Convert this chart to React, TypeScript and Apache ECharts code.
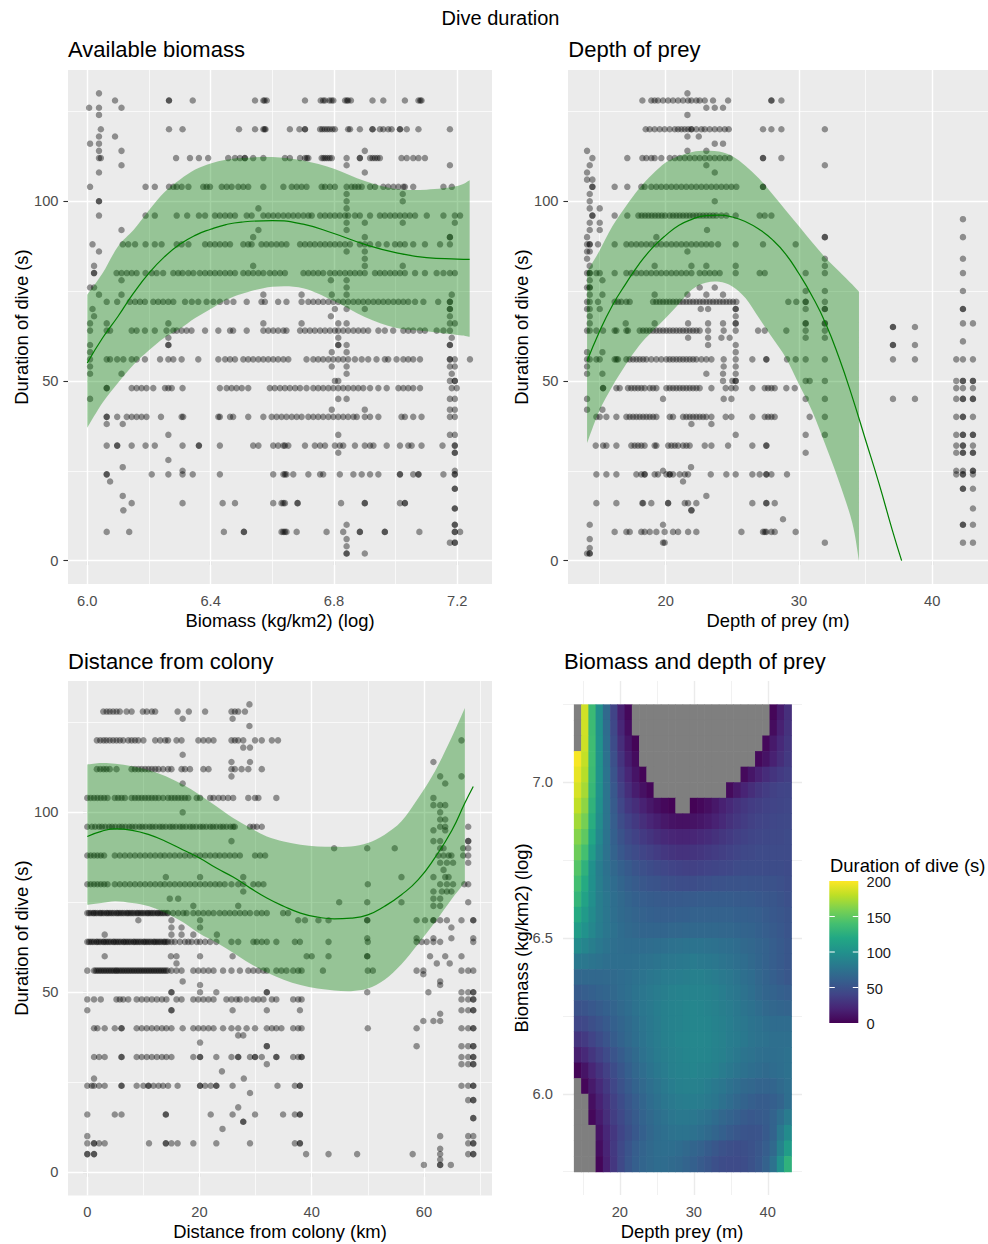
import React, { useEffect, useRef } from 'react';
import * as echarts from 'echarts';

// ---------- shared scales ----------
const FONT = '"Liberation Sans", Arial, Helvetica, sans-serif';
const DURATION_TICKS = [0, 50, 100];
const DURATION_MINOR = [25, 75, 125];

// ---------- Available biomass: dive duration (s) rows -> biomass (log kg/km2) ----------
const BIOMASS_TICKS = [6.0, 6.4, 6.8, 7.2];
const BIOMASS_MINOR = [6.2, 6.6, 7.0];
const BIOMASS_ROWS: [number, number[]][] = [
  [128, [6.265,6.265,6.342,6.544,6.571,6.575,6.582,6.706,6.757,6.765,6.771,6.785,6.792,6.798,6.836,6.842,6.846,6.855,6.925,6.960,7.030,7.074,7.080,7.084]],
  [120, [6.044,6.265,6.309,6.492,6.544,6.571,6.575,6.578,6.657,6.688,6.706,6.706,6.755,6.762,6.770,6.778,6.786,6.795,6.803,6.846,6.852,6.884,6.925,6.925,6.949,6.960,6.976,6.987,7.014,7.014,7.036,7.074,7.176]],
  [112, [6.044,6.288,6.333,6.362,6.392,6.457,6.479,6.495,6.511,6.511,6.538,6.571,6.641,6.657,6.690,6.706,6.712,6.717,6.760,6.766,6.772,6.779,6.786,6.793,6.841,6.884,6.884,6.917,6.925,6.933,6.941,6.949,7.019,7.036,7.057,7.074,7.095]],
  [104, [6.009,6.189,6.219,6.265,6.279,6.290,6.306,6.328,6.376,6.387,6.398,6.436,6.452,6.468,6.490,6.506,6.522,6.571,6.636,6.663,6.679,6.695,6.711,6.760,6.771,6.787,6.803,6.841,6.857,6.868,6.879,6.890,6.917,6.933,6.960,6.976,6.993,7.009,7.025,7.030,7.057,7.155,7.182]],
  [96, [6.038,6.189,6.219,6.290,6.324,6.362,6.382,6.414,6.430,6.447,6.463,6.479,6.517,6.533,6.571,6.587,6.603,6.619,6.636,6.652,6.668,6.684,6.701,6.717,6.728,6.755,6.771,6.787,6.803,6.819,6.836,6.846,6.868,6.884,6.917,6.949,6.965,6.982,6.998,7.014,7.030,7.046,7.063,7.101,7.155,7.192,7.209]],
  [88, [6.017,6.115,6.133,6.155,6.189,6.219,6.241,6.290,6.306,6.328,6.382,6.398,6.414,6.430,6.447,6.463,6.506,6.522,6.533,6.565,6.581,6.597,6.614,6.630,6.646,6.690,6.706,6.722,6.738,6.755,6.771,6.787,6.803,6.819,6.836,6.852,6.884,6.900,6.917,6.944,6.971,6.998,7.014,7.030,7.057,7.095,7.144,7.176]],
  [80, [6.022,6.022,6.095,6.111,6.128,6.144,6.160,6.189,6.209,6.225,6.246,6.279,6.295,6.309,6.328,6.344,6.365,6.382,6.398,6.414,6.430,6.447,6.463,6.479,6.506,6.522,6.538,6.555,6.571,6.592,6.608,6.625,6.641,6.701,6.717,6.733,6.749,6.765,6.787,6.803,6.819,6.836,6.852,6.868,6.884,6.900,6.933,6.949,6.965,6.982,6.998,7.014,7.030,7.063,7.095,7.133,7.155,7.176,7.192]],
  [72, [6.063,6.097,6.138,6.155,6.171,6.187,6.214,6.230,6.246,6.263,6.279,6.317,6.339,6.360,6.387,6.409,6.430,6.452,6.474,6.517,6.565,6.576,6.619,6.646,6.695,6.717,6.733,6.749,6.765,6.782,6.798,6.814,6.830,6.846,6.863,6.879,6.895,6.911,6.928,6.944,6.960,6.976,6.993,7.009,7.025,7.041,7.063,7.090,7.138,7.176,7.176]],
  [64, [6.009,6.063,6.074,6.144,6.160,6.187,6.219,6.257,6.279,6.290,6.306,6.322,6.338,6.382,6.425,6.463,6.473,6.517,6.571,6.587,6.603,6.619,6.636,6.646,6.690,6.706,6.722,6.738,6.755,6.771,6.787,6.803,6.814,6.830,6.846,6.863,6.879,6.895,6.911,6.944,6.965,6.992,7.025,7.041,7.057,7.079,7.095,7.133,7.155,7.176]],
  [56, [6.009,6.063,6.074,6.097,6.117,6.144,6.160,6.187,6.236,6.263,6.279,6.306,6.360,6.425,6.447,6.463,6.479,6.506,6.522,6.538,6.555,6.571,6.587,6.603,6.619,6.636,6.652,6.711,6.733,6.749,6.765,6.782,6.798,6.814,6.830,6.846,6.868,6.890,6.911,6.938,6.965,6.976,7.003,7.025,7.041,7.057,7.079,7.176,7.176,7.192,7.241]],
  [48, [6.063,6.063,6.144,6.160,6.176,6.192,6.214,6.252,6.263,6.274,6.309,6.430,6.452,6.468,6.484,6.501,6.522,6.592,6.608,6.625,6.641,6.657,6.674,6.690,6.711,6.733,6.749,6.765,6.782,6.798,6.814,6.830,6.846,6.863,6.879,6.895,6.917,6.944,6.971,7.009,7.025,7.041,7.057,7.079,7.182,7.198]],
  [40, [6.063,6.063,6.097,6.128,6.144,6.160,6.176,6.192,6.239,6.306,6.311,6.425,6.430,6.463,6.473,6.522,6.571,6.598,6.614,6.630,6.646,6.663,6.679,6.695,6.717,6.733,6.749,6.765,6.782,6.798,6.814,6.830,6.846,6.863,6.874,6.900,6.917,6.944,7.019,7.030,7.057,7.084,7.176,7.192]],
  [32, [6.063,6.097,6.097,6.144,6.189,6.219,6.309,6.362,6.362,6.430,6.538,6.555,6.603,6.619,6.636,6.641,6.652,6.706,6.738,6.755,6.771,6.803,6.819,6.830,6.868,6.900,6.917,6.928,6.971,7.014,7.041,7.052,7.084,7.152,7.192,7.192]],
  [24, [6.063,6.063,6.209,6.263,6.309,6.342,6.430,6.603,6.636,6.641,6.646,6.668,6.717,6.755,6.765,6.819,6.863,6.890,6.917,6.944,7.014,7.014,7.057,7.074,7.074,7.155,7.192,7.192]],
  [16, [6.144,6.309,6.439,6.479,6.603,6.630,6.636,6.641,6.682,6.682,6.823,6.900,6.900,7.014,7.030,7.030]],
  [8, [6.063,6.136,6.443,6.508,6.508,6.630,6.636,6.641,6.646,6.679,6.776,6.830,6.884,6.884,6.965,6.965,7.077,7.192,7.192,7.209]],
];
const BIOMASS_EXTRA: [number, number][] = [
  [6.038,130],[6.090,128],[6.006,126],[6.038,126],[6.111,126],[6.038,124],[6.038,118],[6.090,118],[6.009,116],[6.038,116],
  [6.038,114],[6.111,114],[6.900,114],[6.038,112],[6.111,110],[6.841,110],[7.176,110],[6.038,108],[6.900,108],[6.841,102],
  [7.023,102],[6.038,100],[6.038,100],[6.841,100],[7.023,100],[6.555,98],[6.841,98],[6.841,94],[6.900,94],[7.023,94],
  [7.192,94],[6.111,92],[6.555,92],[6.841,92],[6.538,90],[6.900,90],[7.176,90],[7.176,90],[6.038,86],[6.841,86],
  [6.900,86],[6.900,84],[6.022,82],[6.538,82],[6.900,82],[7.023,82],[6.111,78],[6.790,78],[6.841,78],[6.009,76],
  [6.022,76],[6.841,76],[6.038,74],[6.111,74],[6.571,74],[6.695,74],[6.793,74],[6.841,74],[7.182,74],[6.017,70],
  [6.803,70],[6.841,70],[6.900,70],[7.176,70],[7.176,70],[6.022,68],[6.790,68],[7.176,68],[6.009,66],[6.063,66],
  [6.263,66],[6.571,66],[6.695,66],[6.814,66],[6.841,66],[7.176,66],[7.192,66],[6.263,62],[6.814,62],[7.182,62],
  [6.009,60],[6.263,60],[6.263,60],[6.814,60],[6.814,60],[6.841,60],[7.176,60],[7.176,60],[6.009,58],[6.793,58],
  [6.841,58],[6.009,54],[6.793,54],[6.841,54],[7.176,54],[7.192,54],[6.009,52],[6.111,52],[6.841,52],[7.182,52],
  [6.803,50],[6.814,50],[7.176,50],[7.192,50],[7.192,50],[6.009,45],[6.814,45],[6.841,45],[7.176,45],[7.192,45],
  [6.793,42],[6.900,42],[7.176,42],[7.192,42],[6.063,38],[6.115,38],[6.263,35],[6.814,35],[7.176,35],[7.192,35],
  [6.814,30],[7.192,30],[7.192,30],[6.263,28],[6.115,26],[6.309,25],[7.192,25],[6.074,22],[7.192,20],[7.192,20],
  [6.115,18],[6.117,14],[7.192,14.5],[7.192,14.5],[6.841,10],[7.192,10],[7.192,10],[6.841,6],[7.176,5],[7.192,5],
  [7.192,5],[6.841,4],[6.841,2],[6.841,2],[6.900,2],
];
const BIOMASS_FIT_X = [6.00,6.05,6.10,6.15,6.20,6.25,6.30,6.35,6.40,6.45,6.50,6.60,6.70,6.80,6.90,7.00,7.10,7.20,7.24];
const BIOMASS_FIT = [55,62,68,74.4,80,84.5,88,90.5,92.2,93.5,94.2,94.6,93.6,91,88,85.7,84.3,83.9,83.8];
const BIOMASS_LOW = [37,44,49.5,54.5,58.5,62,64.5,67.5,70,72.5,74.2,76.2,75.8,72.2,67.8,64.8,63.8,62.8,62.3];
const BIOMASS_HIGH = [74,80,87.5,92,97.5,102.5,106,108.8,110.5,111.5,112,112.3,111.3,109,105.6,103.4,103.2,104.2,105.8];

// ---------- Depth of prey (m) ----------
const DEPTH_TICKS = [20, 30, 40];
const DEPTH_MINOR = [15, 25, 35];
const DEPTH_ROWS: [number, number[]][] = [
  [128, [18.25,18.92,19.17,19.42,19.80,20.18,20.55,20.93,21.30,21.68,21.93,22.30,22.55,22.93,23.55,24.68,27.93,27.93,28.68]],
  [120, [18.50,18.80,19.17,19.55,19.92,20.30,20.68,20.93,21.18,21.43,21.68,21.93,21.93,22.30,22.68,22.93,23.30,23.68,24.05,24.43,24.73,27.30,27.93,28.68,31.94]],
  [112, [14.50,17.12,18.25,18.55,18.92,19.17,19.67,20.30,20.68,21.05,21.43,21.80,22.18,22.55,22.93,23.30,23.68,24.05,24.43,24.80,27.30,27.30,28.68]],
  [104, [14.50,14.50,16.17,17.12,18.17,18.42,18.92,19.30,19.67,20.05,20.43,20.80,21.18,21.55,21.93,22.30,22.68,23.05,23.43,23.80,24.18,24.55,24.93,25.30,27.30,27.30]],
  [96, [14.50,14.50,16.17,17.12,17.95,18.20,18.45,18.70,18.95,19.20,19.45,19.70,19.95,20.30,20.55,20.80,21.05,21.30,21.55,21.80,22.05,22.30,22.55,22.80,23.05,23.30,23.55,23.80,24.18,24.55,25.25,27.05,27.43,27.93]],
  [88, [14.10,14.30,14.30,14.92,16.17,17.05,17.42,17.80,18.17,18.55,18.92,19.30,19.67,20.05,20.43,20.80,21.18,21.55,21.93,22.30,22.68,23.05,23.43,23.93,25.25,27.30,29.75]],
  [80, [14.10,14.30,14.30,14.80,15.05,16.17,17.05,17.42,17.80,18.17,18.55,18.92,19.30,19.67,20.05,20.43,20.80,21.18,21.55,21.93,22.55,22.93,23.30,23.68,24.05,25.25,27.05,27.43,30.50,31.94]],
  [72, [14.10,14.30,14.92,16.17,16.42,16.67,17.05,17.30,19.05,19.30,19.55,19.80,20.05,20.30,20.55,20.80,21.05,21.30,21.55,21.80,22.05,22.30,22.55,22.80,23.05,23.30,23.55,23.80,24.05,24.30,24.55,24.80,25.05,25.30,29.20,29.80,30.50,30.50,31.94]],
  [64, [14.10,14.30,14.80,15.30,16.17,16.30,17.05,17.17,18.05,18.30,18.55,18.80,19.05,19.30,19.55,19.80,20.05,20.30,20.55,20.80,21.05,21.30,21.55,21.80,22.05,22.30,22.55,23.18,24.35,25.25,26.93,27.43,29.05,30.50,31.94]],
  [56, [14.10,14.30,14.80,15.05,16.17,16.30,16.42,17.05,17.30,17.55,17.80,18.05,18.30,18.55,18.92,19.30,19.67,20.05,20.30,20.55,20.80,21.05,21.30,21.55,21.80,22.05,22.30,22.68,23.05,23.43,24.35,25.25,26.50,27.55,27.55,29.10,29.75,30.50,31.94,37.05,38.70,41.80,42.30,43.05]],
  [48, [15.30,15.30,16.30,16.55,17.17,17.42,17.67,17.92,18.17,18.42,18.80,19.05,19.30,20.05,20.30,20.55,20.80,21.05,21.30,21.55,21.80,22.05,22.30,22.55,23.43,24.50,24.93,25.25,26.50,27.43,27.68,27.93,28.18,29.05,29.68,41.80,42.30,43.05]],
  [40, [14.80,15.05,15.55,16.30,17.05,17.30,17.55,17.80,18.05,18.30,18.55,18.80,19.05,19.30,20.30,20.55,21.30,21.55,21.80,22.05,22.30,22.55,22.80,23.05,23.43,24.50,24.93,26.50,27.43,27.68,27.93,28.18,30.80,31.94,41.80,42.30,42.30,43.05]],
  [32, [14.75,15.30,15.55,16.30,17.42,17.67,17.92,18.17,18.42,19.17,19.30,20.18,20.43,20.68,20.93,21.30,21.55,21.80,22.93,23.43,24.68,26.50,27.55,27.55,41.80,42.30,42.30,43.05]],
  [24, [14.80,15.55,16.30,17.80,18.17,18.42,18.42,19.17,19.42,20.05,20.30,20.30,20.55,21.05,21.43,21.68,23.38,24.55,25.25,26.50,27.05,27.55,27.55,27.93,29.10,41.80,42.30,42.30,43.05]],
  [16, [14.80,16.30,18.25,18.30,18.92,20.18,20.18,21.43,21.68,22.30,26.50,27.55,27.55,28.18]],
  [8, [16.17,17.05,17.30,18.17,18.42,18.80,19.30,19.92,20.55,20.93,21.68,22.30,25.68,27.30,27.43,27.55,27.93,28.18,29.75]],
];
const DEPTH_EXTRA: [number, number][] = [
  [21.63,130],[23.05,126],[23.68,126],[24.30,126],[21.63,124],[21.63,118],[22.48,118],[23.68,116],[24.30,116],[14.10,114],
  [21.63,114],[23.05,114],[14.30,110],[23.05,110],[31.94,110],[14.10,108],[23.68,108],[14.10,106],[14.50,106],[14.30,102],
  [14.30,100],[23.68,100],[14.30,98],[15.05,98],[14.30,94],[15.05,94],[14.30,92],[15.05,92],[23.10,92],[14.10,90],
  [19.30,90],[31.94,90],[31.94,90],[42.30,95],[42.30,90],[14.10,86],[14.30,86],[21.63,86],[14.10,84],[31.94,84],
  [42.30,84],[14.30,82],[19.17,82],[21.93,82],[23.05,82],[25.25,82],[31.94,82],[42.30,80],[14.30,78],[15.25,78],
  [14.10,76],[14.30,76],[14.30,76],[22.55,76],[23.68,76],[14.30,74],[15.25,74],[19.17,74],[21.63,74],[23.05,74],
  [24.30,74],[30.50,75],[31.94,75],[42.30,75],[14.10,70],[14.30,70],[15.05,70],[22.63,70],[23.18,70],[25.25,70],
  [25.25,70],[30.50,70],[31.94,70],[31.94,70],[42.30,70],[42.30,70],[14.30,68],[25.25,68],[14.30,66],[17.00,66],
  [19.17,66],[21.68,66],[23.18,66],[24.30,66],[25.25,66],[25.25,66],[30.50,66],[30.50,66],[31.94,66],[31.94,66],
  [42.30,66],[43.05,66],[37.05,65],[37.05,65],[38.70,65],[21.68,62],[23.18,62],[24.18,62],[24.80,62],[30.50,62],
  [31.94,62],[42.30,61],[37.05,60],[37.05,60],[38.70,60],[23.18,60],[25.25,60],[14.10,58],[15.25,58],[25.25,58],
  [14.10,54],[24.35,54],[25.25,54],[14.10,52],[15.25,52],[23.05,52],[24.30,52],[25.25,52],[24.30,50],[25.00,50],
  [25.25,50],[25.25,50],[30.50,50],[30.80,50],[31.94,50],[41.80,50],[42.30,50],[42.30,50],[43.05,50],[43.05,50],
  [14.10,45],[19.80,45],[24.35,45],[24.93,45],[30.50,45],[31.94,45],[37.05,45],[38.70,45],[41.80,45],[42.30,45],
  [42.30,45],[43.05,45],[43.05,45],[14.10,42],[15.25,42],[21.93,38],[23.43,38],[25.25,35],[30.50,35],[31.94,35],
  [41.80,35],[42.30,35],[42.30,35],[43.05,35],[43.05,35],[30.50,30],[41.80,30],[42.30,30],[42.30,30],[43.05,30],
  [43.05,30],[21.90,26],[19.80,25],[41.80,25],[42.30,25],[43.05,25],[43.05,25],[21.30,22],[42.30,20],[42.30,20],
  [43.05,20],[23.05,18],[43.05,14.5],[21.93,14],[21.93,14],[28.80,11.5],[14.30,10],[19.80,10],[42.30,10],[42.30,10],
  [43.05,10],[14.30,6],[19.80,5],[19.92,5],[31.94,5],[42.30,5],[43.05,5],[14.30,3.5],[14.10,2],[14.30,2],[14.30,2],
];
const DEPTH_FIT_X = [14.1,15,16,17,18,19,20,21,22,23,24,25,26,27,28,29,30,31,32,33,34,35,36,37,37.7];
const DEPTH_FIT = [55.5,63.5,71,77,82.5,87,90.5,93.3,95,96,96.1,95.6,94.3,92.2,89.3,85.3,79.8,73.5,66,56.5,45.5,33.5,21.5,8.5,0];
const DEPTH_BAND_X = [14.1,15,16,17,18,19,20,21,22,23,24,25,26,27,28,29,30,31,32,33,34,34.5];
const DEPTH_LOW = [32.7,41.5,48.5,54.5,59.8,63.8,67.5,71.5,75.5,77.3,77.6,76.3,73,67.5,62,56.5,49,41.5,32,22,10.5,0];
const DEPTH_HIGH = [80.4,86,93,98.5,103.5,107.5,110.8,112.6,113.7,114,113.8,112.5,109.8,106.3,102,97.5,93,88.5,84.2,80.5,76.8,74.8];

// ---------- Distance from colony (km) ----------
const DIST_TICKS = [0, 20, 40, 60];
const DIST_MINOR = [10, 30, 50, 70];
const DIST_ROWS: [number, number[]][] = [
  [128, [2.85,3.45,4.0,4.6,5.2,5.8,7.0,7.9,9.9,10.6,11.5,12.1,16.1,18.1,21.0,25.7,26.3,26.9,28.1]],
  [120, [1.7,2.3,2.9,3.4,4.0,4.6,5.2,5.8,6.4,7.3,7.9,8.5,9.1,10.0,12.1,13.0,13.9,14.4,15.9,16.8,19.8,20.7,21.6,22.5,25.7,26.3,26.9,27.8,29.9,31.1,32.9,34.0]],
  [112, [1.7,2.3,2.9,3.4,4.0,5.2,7.9,8.5,9.1,9.7,10.3,10.9,11.5,12.1,12.7,13.5,14.4,15.0,16.8,17.4,18.3,20.7,21.6,25.7,26.3,27.5,28.7,31.1]],
  [104, [0.0,0.6,1.2,1.8,2.4,3.0,3.6,4.9,5.5,6.1,6.7,7.9,8.5,9.1,9.7,10.3,10.9,11.5,12.1,12.7,13.5,14.4,15.0,15.6,16.2,16.8,17.4,18.0,19.5,20.1,21.9,22.5,23.4,24.2,25.1,26.0,28.7,29.9,30.5,33.7]],
  [96, [0.0,0.8,1.4,2.1,2.6,3.2,3.9,4.4,5.0,5.7,6.2,6.8,7.5,8.0,8.6,9.3,9.8,10.4,11.1,11.6,12.2,12.9,13.4,14.0,14.7,15.2,15.8,16.5,17.0,17.6,18.3,18.8,19.4,20.1,20.6,21.2,21.9,22.4,23.0,23.7,24.2,24.8,25.5,26.0,26.3,29.0,29.6,30.2,31.1]],
  [88, [0.0,0.6,1.2,1.8,2.4,3.0,4.9,5.8,6.7,7.6,8.5,9.4,10.3,11.2,12.1,13.0,13.8,14.7,15.6,16.5,17.4,18.3,19.2,20.1,21.0,21.9,22.8,23.6,24.5,25.4,26.3,27.2,29.9,30.8,31.7]],
  [80, [0.0,0.6,1.2,1.8,2.4,3.0,3.6,4.9,5.8,6.7,7.6,8.5,9.4,10.3,11.2,12.1,13.0,13.8,14.7,15.6,16.5,17.4,18.3,19.2,20.1,21.0,21.9,22.8,23.6,24.5,25.7,26.9,27.8,29.6,30.5,31.4,50.0,62.9,64.1,65.2,67.2,67.9]],
  [72, [0.0,0.6,1.2,1.8,2.4,3.0,3.6,4.2,4.8,5.4,6.0,6.6,7.2,7.8,8.4,9.0,9.6,10.2,10.8,11.4,12.0,12.6,13.2,13.8,14.4,15.3,16.2,17.1,17.7,18.9,19.8,20.7,21.6,22.5,23.6,24.5,25.4,26.3,27.2,28.1,29.0,30.2,31.1,32.0,34.9,35.8]],
  [72, [0.3,1.0,1.5,2.2,2.7,3.4,3.9,4.5,5.2,5.7,6.3,7.0,7.5,8.1,8.8,9.3,9.9,10.6,11.1,11.7,12.4,12.9,13.5,14.2]],
  [64, [0.0,0.6,1.2,1.8,2.4,3.0,3.6,4.2,4.8,5.4,6.0,6.6,7.2,7.8,8.4,9.0,9.6,10.2,10.8,11.4,12.0,12.6,13.2,13.8,14.4,15.0,15.6,16.5,17.4,18.0,18.6,19.5,20.1,21.0,21.9,23.0,25.7,26.9,29.6,30.2,31.1,32.0,33.7,37.0,37.9,43.0,50.0,58.7,59.6,60.5,61.7,62.9,68.8]],
  [64, [0.3,0.9,1.6,2.1,2.8,3.3,3.9,4.6,5.1,5.7,6.4,6.9,7.5,8.2,8.7,9.3,10.0,10.5,11.1,11.8,12.3,12.9,13.6,14.1]],
  [56, [0.0,1.2,1.8,2.4,3.0,3.6,4.2,4.8,5.3,5.9,6.5,7.1,7.7,8.3,8.9,9.5,10.1,10.7,11.3,11.9,12.5,13.1,13.7,14.3,15.0,15.9,16.8,18.9,19.8,20.7,21.6,22.5,24.2,25.7,27.2,28.7,29.6,30.5,31.4,32.0,33.7,34.6,35.5,36.7,37.6,38.2,42.0,50.0,50.9,58.7,59.9,66.7,67.9,68.8]],
  [56, [1.5,2.1,2.7,3.3,3.9,4.5,5.1,5.6,6.2,6.8,7.4,8.0,8.6,9.2,9.8,10.4,11.0,11.6,12.2,12.8,13.4,14.0]],
  [48, [0.0,1.2,2.4,5.2,5.8,6.4,7.3,8.8,9.7,10.6,11.5,12.4,13.3,14.1,15.9,16.8,18.9,19.8,20.7,21.6,22.5,24.8,25.7,26.6,27.2,28.4,29.6,30.5,31.4,32.9,33.7,36.7,37.6,38.2,66.7,67.9,68.8,68.8]],
  [40, [1.2,1.8,3.1,4.9,6.1,6.1,8.8,9.7,10.6,11.5,12.4,13.3,14.1,15.0,17.0,18.9,19.8,20.7,21.6,22.5,24.2,25.7,26.9,28.4,29.9,32.0,32.9,33.7,34.6,36.7,37.6,38.2,50.0,58.7,66.7,67.9,68.8,68.8]],
  [32, [1.2,2.1,3.1,6.1,6.1,8.8,9.7,10.6,11.5,12.4,13.3,14.1,15.0,18.9,20.1,20.1,23.0,25.7,26.9,26.9,29.0,29.9,29.9,31.1,33.7,33.7,36.7,37.6,38.2,38.2,66.7,67.9,68.8,68.8]],
  [24, [0.0,0.8,1.2,2.1,3.1,6.1,6.1,8.8,10.0,10.9,10.9,11.8,12.7,13.5,14.4,16.1,20.1,20.1,21.0,22.0,23.0,23.0,25.9,33.9,37.0,37.9,37.9,66.7,67.9,68.8,68.8]],
  [16, [0.0,4.9,6.1,14.0,14.0,22.0,25.9,29.9,34.9,37.0,37.9,37.9]],
  [8, [0.0,1.2,1.2,2.1,3.1,11.0,14.0,14.0,15.0,16.1,18.9,23.0,29.0,37.0,37.9,37.9,67.9,68.8,68.8]],
];
const DIST_EXTRA: [number, number][] = [
  [28.9,130],[17.0,126],[25.9,126],[28.9,124],[27.8,118],[29.0,118],[17.0,116],[25.7,114],[29.0,114],[61.7,114],
  [66.7,120],[25.7,110],[62.9,110],[66.7,110],[17.0,108],[63.8,108],[61.7,104],[61.7,102],[62.9,102],[63.8,102],
  [17.0,100],[62.9,100],[62.9,98],[63.8,98],[62.9,96],[63.8,96],[67.9,96],[61.7,95],[63.8,95],[25.7,92],
  [61.7,92],[62.9,92],[67.9,92],[67.9,92],[44.0,90],[49.9,90],[54.8,90],[62.9,90],[63.5,90],[67.0,90],
  [67.9,90],[62.6,88],[63.5,88],[64.4,88],[64.9,88],[67.0,88],[67.9,88],[62.9,86],[64.1,86],[65.2,86],
  [67.9,86],[63.5,84],[14.0,82],[20.1,82],[27.8,82],[56.0,82],[61.7,82],[63.8,82],[64.4,82],[27.8,78],
  [61.7,78],[63.2,78],[64.1,78],[64.9,78],[14.7,76],[16.2,76],[61.7,76],[62.9,76],[44.9,75],[49.9,75],
  [56.0,75],[67.9,75],[18.9,74],[26.9,74],[61.7,74],[62.9,74],[9.1,70],[15.0,70],[20.1,70],[37.6,70],
  [38.8,70],[41.2,70],[43.0,70],[49.9,70],[49.9,70],[58.7,70],[60.2,70],[61.7,70],[61.7,70],[62.9,70],
  [64.1,70],[66.7,70],[68.8,70],[68.8,70],[15.0,68],[16.8,68],[20.1,68],[64.9,68],[3.1,66],[15.0,66],
  [16.8,66],[18.9,66],[23.1,66],[49.9,65],[58.7,65],[61.7,65],[64.9,65],[68.8,65],[3.1,60],[14.9,60],
  [15.9,60],[20.1,60],[25.9,60],[39.1,60],[40.0,60],[43.0,60],[49.9,60],[49.9,60],[61.1,60],[63.8,60],
  [66.7,60],[15.9,58],[62.3,58],[64.6,58],[59.9,55],[17.0,53],[62.9,53],[20.1,52],[62.9,52],[15.0,50],
  [15.0,50],[20.1,50],[23.0,50],[32.0,50],[32.0,50],[49.9,50],[60.8,50],[66.7,50],[67.9,50],[68.8,50],
  [68.8,50],[0.0,45],[15.0,45],[15.0,45],[25.9,45],[32.0,45],[37.9,45],[66.7,45],[67.9,45],[68.8,45],
  [68.8,45],[62.9,44],[59.9,42],[61.7,42],[62.9,42],[26.9,38],[27.8,38],[20.1,36],[32.0,35],[32.0,35],
  [58.7,35],[66.7,35],[67.9,35],[68.8,35],[68.8,35],[32.0,30],[66.7,30],[67.9,30],[68.8,30],[68.8,30],
  [24.0,28],[1.2,26],[27.9,26],[29.0,22],[67.9,20],[68.8,20],[68.8,20],[26.9,18],[68.8,15],[68.8,15],
  [27.8,14],[27.8,14],[24.1,12],[0.0,10],[62.9,10],[67.9,10],[68.8,10],[0.0,5],[0.0,5],[1.2,5],
  [1.2,5],[39.0,5],[43.0,5],[48.1,5],[58.0,5],[62.9,6.5],[62.9,5],[67.9,5],[68.8,5],[68.8,5],
  [62.9,3.5],[60.0,2],[62.9,2],[62.9,2],[64.8,2],
];
const DIST_FIT_X = [0,2.5,5,8,11,14,17,20,23,26,29,32,35,38,41,44,47,50,53,56,59,62,65,67.3,68.8];
const DIST_FIT = [93.3,94.7,95.4,95,93.8,91.9,89.6,87.3,84.5,82,79,76.2,73.9,72,70.9,70.4,70.6,71.5,73.9,77.1,81.3,87.5,95,102.6,107.2];
const DIST_BAND_X = [0,2.5,5,8,11,14,17,20,23,26,29,32,35,38,41,44,47,50,53,56,59,62,65,67.3];
const DIST_LOW = [74.3,74.8,75.3,74.8,73.9,72,69.5,66.3,63.8,61,58,55.5,53.5,52,51,50.5,50.3,51,53.5,57.8,63.5,69.5,76,80.5];
const DIST_HIGH = [113.3,113.7,113.5,112.8,111.7,110,107.7,104.9,101.7,98.4,95.7,93.3,91.9,91,90.5,90.4,90.5,91.5,93.8,97.5,104,111.5,121,129];

// ---------- Biomass x depth surface (predicted duration, s) ----------
const SURFACE_DEPTH_TICKS = [20, 30, 40];
const SURFACE_DEPTH_MINOR = [15, 25, 35];
const SURFACE_BIOMASS_TICKS = [6.0, 6.5, 7.0];
const SURFACE_BIOMASS_MINOR = [5.75, 6.25, 6.75, 7.25];
const SURFACE_DEPTH = [14.27,15.25,16.23,17.21,18.19,19.17,20.15,21.13,22.11,23.09,24.07,25.05,26.03,27.01,27.99,28.97,29.95,30.93,31.91,32.89,33.87,34.85,35.83,36.81,37.79,38.77,39.75,40.73,41.71,42.69];
const SURFACE_BIOMASS = [7.225,7.175,7.125,7.075,7.025,6.975,6.925,6.875,6.825,6.775,6.725,6.675,6.625,6.575,6.525,6.475,6.425,6.375,6.325,6.275,6.225,6.175,6.125,6.075,6.025,5.975,5.925,5.875,5.825,5.775];
const SURFACE_DURATION: number[][] = [
  [212,186,135,98,68,40,18,4,-5,-12,-18,-24,-29,-33,-36,-38,-39,-39,-38,-36,-33,-29,-24,-18,-12,-7,-2,3,15,27],
  [207,186,136,100,70,43,22,7,-3,-9,-15,-21,-26,-30,-33,-35,-36,-36,-35,-33,-30,-26,-21,-15,-10,-5,-1,6,18,29],
  [202,185,137,101,72,46,26,12,2,-5,-11,-17,-22,-26,-29,-31,-32,-32,-31,-29,-26,-22,-17,-12,-7,-2,4,14,23,31],
  [198,182,137,102,74,49,30,16,6,-2,-7,-12,-16,-19,-21,-22,-23,-23,-22,-20,-17,-13,-9,-5,-1,4,10,18,26,33],
  [193,178,136,102,76,52,34,21,11,2,-3,-7,-11,-14,-16,-17,-17,-16,-14,-11,-8,-5,-1,5,12,19,25,30,34,37],
  [188,173,133,101,77,55,38,26,16,9,3,-2,-5,-8,-10,-11,-11,-10,-8,-5,-2,5,13,20,26,31,35,38,40,41],
  [181,166,129,99,77,57,42,32,26,19,13,8,4,1,-2,-2,1,4,8,13,18,23,28,32,35,37,39,40,41,42],
  [172,158,124,96,77,59,47,39,33,27,21,17,13,10,9,9,10,12,15,19,23,28,32,35,38,40,41,42,43,44],
  [163,150,118,93,76,61,51,44,39,34,30,26,23,21,20,20,21,23,25,28,31,34,37,39,41,42,43,44,44,45],
  [155,140,110,89,75,63,55,49,45,41,38,35,32,30,29,29,30,31,33,35,37,39,41,43,44,45,45,45,45,45],
  [146,128,100,84,74,67,61,56,52,49,46,44,42,40,39,38,38,39,40,41,42,43,45,46,46,46,46,46,46,45],
  [139,122,99,85,76,70,65,60,57,54,52,51,49,48,47,47,47,48,49,50,50,51,51,52,51,51,50,50,49,47],
  [131,115,98,85,78,72,68,64,61,59,58,57,56,56,56,57,57,58,58,58,58,58,57,57,56,55,54,53,51,49],
  [122,108,95,85,78,73,69,66,64,62,61,60,60,60,61,61,62,62,62,62,62,62,61,61,60,59,57,55,53,51],
  [110,101,92,84,78,74,70,68,66,65,65,65,65,66,66,67,67,67,67,67,66,66,65,64,63,61,59,57,55,52],
  [95,90,85,80,76,73,71,70,70,70,71,72,73,74,75,76,76,76,75,74,73,72,70,68,66,64,62,59,56,53],
  [80,79,77,75,73,72,72,72,73,74,75,77,78,79,80,81,82,81,80,79,77,75,73,71,68,65,62,59,56,53],
  [66,67,67,67,68,69,70,72,74,76,78,80,82,83,84,85,86,86,85,83,81,79,76,73,70,66,63,60,57,54],
  [57,59,61,63,65,67,70,73,76,78,81,83,85,87,88,89,89,89,88,86,84,81,78,75,72,68,65,63,61,59],
  [50,52,55,58,61,64,68,71,75,78,81,84,86,88,89,90,91,90,89,87,85,83,80,77,74,71,68,66,65,64],
  [42,44,48,52,56,61,65,69,73,77,80,83,86,88,89,90,91,91,90,88,86,84,81,79,76,74,72,70,70,70],
  [30,34,40,46,52,58,63,68,72,76,80,83,86,88,90,91,92,92,91,89,87,84,82,80,77,75,74,73,73,73],
  [17,23,31,38,45,52,58,64,69,74,78,82,85,87,89,90,91,91,90,88,86,83,80,77,75,73,72,72,73,74],
  [2,11,21,30,38,46,53,60,66,71,76,80,83,86,88,89,90,89,88,86,83,80,77,74,72,70,69,70,72,74],
  [-12,3,14,24,33,42,50,57,63,68,73,77,81,84,86,87,87,86,84,81,78,74,71,68,66,64,64,65,69,73],
  [-28,-2,8,19,29,38,46,53,59,65,70,74,78,81,83,84,84,83,81,78,74,70,66,63,60,58,58,60,64,72],
  [-45,-15,4,15,26,36,44,51,57,63,68,72,75,78,80,80,79,77,74,70,66,63,60,57,55,56,58,63,72,82],
  [-60,-28,-1,10,22,32,41,48,55,61,66,70,73,75,76,76,74,72,69,65,61,57,54,52,51,52,56,63,80,95],
  [-75,-40,-12,7,20,33,44,52,59,64,68,71,72,72,70,68,65,62,58,54,50,48,47,48,50,54,59,68,88,110],
  [-90,-52,-22,3,18,32,44,53,60,65,68,70,70,69,67,64,61,57,53,49,46,45,45,47,50,55,62,75,100,128],
];
const DURATION_LIMITS = [0, 200];
const LEGEND_BREAKS = [0, 50, 100, 150, 200];
const VIRIDIS = ['#440154','#482475','#414487','#355F8D','#2A788E','#21918C','#22A884','#44BF70','#7AD151','#BDDF26','#FDE725'];

// ---------- styling ----------
const PANEL_BG = '#EBEBEB';
const AXIS_TEXT = '#4D4D4D';
const POINT_COLOR = '#000000';
const BAND_FILL = 'rgba(0,128,0,0.36)';
const FIT_COLOR = '#008000';
const NA_GREY = '#7F7F7F';

type Row = [number, number[]];
const rowsToPoints = (rows: Row[], extra: [number, number][]) => {
  const pts: number[][] = [];
  rows.forEach(([dur, xs]) => xs.forEach((x) => pts.push([x, dur])));
  extra.forEach((p) => pts.push([p[0], p[1]]));
  return pts;
};

// Catmull-Rom spline through pixel points, written as cubic Bezier path commands.
const splinePath = (pts: number[][], start: 'M' | 'L') => {
  let s = `${start}${pts[0][0]},${pts[0][1]}`;
  for (let i = 0; i < pts.length - 1; i++) {
    const p0 = pts[Math.max(i - 1, 0)];
    const p1 = pts[i];
    const p2 = pts[i + 1];
    const p3 = pts[Math.min(i + 2, pts.length - 1)];
    const c1x = p1[0] + (p2[0] - p0[0]) / 6;
    const c1y = p1[1] + (p2[1] - p0[1]) / 6;
    const c2x = p2[0] - (p3[0] - p1[0]) / 6;
    const c2y = p2[1] - (p3[1] - p1[1]) / 6;
    s += `C${c1x},${c1y},${c2x},${c2y},${p2[0]},${p2[1]}`;
  }
  return s;
};

const gridLines = (xMajor: number[], xMinor: number[], yMajor: number[], yMinor: number[], color: string, majorW: number, minorW: number) => ({
  silent: true,
  symbol: 'none',
  z: 1,
  animation: false,
  label: { show: false },
  emphasis: { disabled: true },
  lineStyle: { type: 'solid', color },
  data: [
    ...xMinor.map((v) => ({ xAxis: v, lineStyle: { color, width: minorW, type: 'solid' } })),
    ...yMinor.map((v) => ({ yAxis: v, lineStyle: { color, width: minorW, type: 'solid' } })),
    ...xMajor.map((v) => ({ xAxis: v, lineStyle: { color, width: majorW, type: 'solid' } })),
    ...yMajor.map((v) => ({ yAxis: v, lineStyle: { color, width: majorW, type: 'solid' } })),
  ],
});

const valueAxis = (gridIndex: number, min: number, max: number, ticks: number[], fmt: (v: number) => string, margin: number, showTicks: boolean) => ({
  type: 'value',
  gridIndex,
  min,
  max,
  axisLine: { show: false },
  axisTick: { show: showTicks, length: 4.6, lineStyle: { color: '#333333', width: 1.1 }, customValues: ticks },
  axisLabel: { customValues: ticks, formatter: fmt, color: AXIS_TEXT, fontSize: 14.7, fontFamily: FONT, margin },
  splitLine: { show: false },
  minorSplitLine: { show: false },
});

const scatterSeries = (idx: number, points: number[][], lines: any) => ({
  type: 'scatter',
  xAxisIndex: idx,
  yAxisIndex: idx,
  data: points,
  symbol: 'circle',
  symbolSize: 6.5,
  itemStyle: { color: POINT_COLOR, opacity: 0.4 },
  silent: true,
  emphasis: { disabled: true },
  z: 2,
  markLine: lines,
});

// confidence ribbon (one closed shape through the lower and upper limits) plus fitted curve
const smoothSeries = (idx: number, bandX: number[], low: number[], high: number[], fitX: number[], fit: number[]) => [
  {
    type: 'custom',
    xAxisIndex: idx,
    yAxisIndex: idx,
    silent: true,
    z: 3,
    data: bandX.map((x, i) => [x, low[i], high[i]]),
    encode: { x: 0, y: [1, 2] },
    renderItem: (params: any, api: any) => {
      if (params.dataIndex !== 0) return null;
      const lowPts = bandX.map((x, i) => api.coord([x, low[i]]));
      const highPts = bandX.map((x, i) => api.coord([x, high[i]])).reverse();
      const d = splinePath(lowPts, 'M') + splinePath(highPts, 'L') + 'Z';
      return { type: 'path', shape: { pathData: d }, style: { fill: BAND_FILL } };
    },
  },
  {
    type: 'line', xAxisIndex: idx, yAxisIndex: idx, smooth: true, symbol: 'none', silent: true, z: 4,
    data: fitX.map((x, i) => [x, fit[i]]),
    lineStyle: { color: FIT_COLOR, width: 1.2 },
  },
];

const text = (t: string, x: number, y: number, size: number, opts: any = {}) => ({
  type: 'text',
  x,
  y,
  rotation: opts.rotation || 0,
  silent: true,
  style: {
    text: t,
    fontSize: size,
    fontFamily: FONT,
    fill: opts.fill || '#000000',
    align: opts.align || 'left',
    verticalAlign: 'middle',
  },
});

function buildOption() {
  const fmt0 = (v: number) => String(v);
  const fmt1 = (v: number) => Number(v).toFixed(1);

  const surfaceCells: number[][] = [];
  SURFACE_BIOMASS.forEach((b, r) => {
    SURFACE_DEPTH.forEach((d, c) => {
      surfaceCells.push([d, b, SURFACE_DURATION[r][c]]);
    });
  });
  const cellW = SURFACE_DEPTH[1] - SURFACE_DEPTH[0];
  const cellH = SURFACE_BIOMASS[0] - SURFACE_BIOMASS[1];

  // colour bar of the legend
  const barX = 829.3, barTop = 881, barW = 29, barH = 142;
  const barY = (v: number) => barTop + barH - ((v - DURATION_LIMITS[0]) / (DURATION_LIMITS[1] - DURATION_LIMITS[0])) * barH;
  const legendGraphics: any[] = [
    {
      type: 'rect',
      silent: true,
      shape: { x: barX, y: barTop, width: barW, height: barH },
      style: {
        fill: new echarts.graphic.LinearGradient(0, 1, 0, 0, VIRIDIS.map((c, i) => ({ offset: i / (VIRIDIS.length - 1), color: c }))),
      },
    },
  ];
  LEGEND_BREAKS.forEach((v) => {
    if (v > DURATION_LIMITS[0] && v < DURATION_LIMITS[1]) {
      const y = barY(v);
      legendGraphics.push({ type: 'line', silent: true, shape: { x1: barX, y1: y, x2: barX + 5.5, y2: y }, style: { stroke: '#ffffff', lineWidth: 1 } });
      legendGraphics.push({ type: 'line', silent: true, shape: { x1: barX + barW - 5.5, y1: y, x2: barX + barW, y2: y }, style: { stroke: '#ffffff', lineWidth: 1 } });
    }
    legendGraphics.push(text(String(v), 866.5, barY(v) + 1, 14.7, { fill: '#1A1A1A' }));
  });

  return {
    animation: false,
    backgroundColor: '#ffffff',
    textStyle: { fontFamily: FONT },
    grid: [
      { left: 68, top: 70, width: 424, height: 514, show: true, backgroundColor: PANEL_BG, borderWidth: 0 },
      { left: 568, top: 70, width: 420, height: 514, show: true, backgroundColor: PANEL_BG, borderWidth: 0 },
      { left: 68, top: 681, width: 424, height: 514.5, show: true, backgroundColor: PANEL_BG, borderWidth: 0 },
      { left: 563, top: 681, width: 239, height: 514, show: false },
    ],
    xAxis: [
      valueAxis(0, 5.9375, 7.3125, BIOMASS_TICKS, fmt1, 9, true),
      valueAxis(1, 12.67, 44.18, DEPTH_TICKS, fmt0, 9, true),
      valueAxis(2, -3.44, 72.14, DIST_TICKS, fmt0, 9, true),
      valueAxis(3, 12.31, 44.63, SURFACE_DEPTH_TICKS, fmt0, 9, false),
    ],
    yAxis: [
      valueAxis(0, -6.5, 136.5, DURATION_TICKS, fmt0, 9.5, true),
      valueAxis(1, -6.5, 136.5, DURATION_TICKS, fmt0, 9.5, true),
      valueAxis(2, -6.5, 136.5, DURATION_TICKS, fmt0, 9.5, true),
      valueAxis(3, 5.675, 7.325, SURFACE_BIOMASS_TICKS, fmt1, 10, false),
    ],
    visualMap: [
      {
        type: 'continuous',
        show: false,
        seriesIndex: 10,
        dimension: 2,
        // limits of the colour scale; predictions outside them are drawn in grey
        min: DURATION_LIMITS[0] - 0.01,
        max: DURATION_LIMITS[1] + 0.01,
        range: [DURATION_LIMITS[0], DURATION_LIMITS[1]],
        inRange: { color: VIRIDIS },
        outOfRange: { color: NA_GREY },
      },
    ],
    series: [
      scatterSeries(0, rowsToPoints(BIOMASS_ROWS, BIOMASS_EXTRA), gridLines(BIOMASS_TICKS, BIOMASS_MINOR, DURATION_TICKS, DURATION_MINOR, '#ffffff', 1.4, 0.7)),
      ...smoothSeries(0, BIOMASS_FIT_X, BIOMASS_LOW, BIOMASS_HIGH, BIOMASS_FIT_X, BIOMASS_FIT),
      scatterSeries(1, rowsToPoints(DEPTH_ROWS, DEPTH_EXTRA), gridLines(DEPTH_TICKS, DEPTH_MINOR, DURATION_TICKS, DURATION_MINOR, '#ffffff', 1.4, 0.7)),
      ...smoothSeries(1, DEPTH_BAND_X, DEPTH_LOW, DEPTH_HIGH, DEPTH_FIT_X, DEPTH_FIT),
      scatterSeries(2, rowsToPoints(DIST_ROWS, DIST_EXTRA), gridLines(DIST_TICKS, DIST_MINOR, DURATION_TICKS, DURATION_MINOR, '#ffffff', 1.4, 0.7)),
      ...smoothSeries(2, DIST_BAND_X, DIST_LOW, DIST_HIGH, DIST_FIT_X, DIST_FIT),
      scatterSeries(3, [], gridLines(SURFACE_DEPTH_TICKS, SURFACE_DEPTH_MINOR, SURFACE_BIOMASS_TICKS, SURFACE_BIOMASS_MINOR, '#EBEBEB', 1.4, 0.7)),
      {
        type: 'custom',
        xAxisIndex: 3,
        yAxisIndex: 3,
        data: surfaceCells,
        dimensions: ['depth', 'biomass', 'duration'],
        encode: { x: 0, y: 1 },
        silent: true,
        z: 2,
        renderItem: (params: any, api: any) => {
          const d = api.value(0);
          const b = api.value(1);
          const p0 = api.coord([d - cellW / 2, b + cellH / 2]);
          const p1 = api.coord([d + cellW / 2, b - cellH / 2]);
          return {
            type: 'rect',
            shape: { x: p0[0], y: p0[1], width: p1[0] - p0[0] + 0.6, height: p1[1] - p0[1] + 0.6 },
            style: { fill: api.visual('color') },
          };
        },
      },
    ],
    graphic: [
      text('Dive duration', 500.5, 17.6, 20, { align: 'center' }),
      text('Available biomass', 68, 49.1, 22),
      text('Depth of prey', 568.3, 49.1, 22),
      text('Distance from colony', 68, 661, 22),
      text('Biomass and depth of prey', 564, 661.5, 22),
      text('Biomass (kg/km2) (log)', 280, 620.3, 18.4, { align: 'center' }),
      text('Depth of prey (m)', 778, 620.3, 18.4, { align: 'center' }),
      text('Distance from colony (km)', 280, 1231, 18.4, { align: 'center' }),
      text('Depth prey (m)', 682, 1231, 18.4, { align: 'center' }),
      text('Duration of dive (s)', 21.7, 327, 18.4, { align: 'center', rotation: Math.PI / 2 }),
      text('Duration of dive (s)', 521.4, 327, 18.4, { align: 'center', rotation: Math.PI / 2 }),
      text('Duration of dive (s)', 21.7, 938, 18.4, { align: 'center', rotation: Math.PI / 2 }),
      text('Biomass (kg/km2) (log)', 521.4, 938, 18.4, { align: 'center', rotation: Math.PI / 2 }),
      text('Duration of dive (s)', 830, 865.1, 18.4),
      ...legendGraphics,
    ],
  };
}

export default function App() {
  const ref = useRef<HTMLDivElement>(null);
  useEffect(() => {
    if (!ref.current) return;
    const chart = echarts.init(ref.current, null, { renderer: 'svg' });
    chart.setOption(buildOption() as any);
    return () => {
      chart.dispose();
    };
  }, []);
  return (
    <div
      ref={ref}
      style={{ position: 'absolute', left: 0, top: 0, width: 988, height: 1244, background: '#ffffff' }}
    />
  );
}
